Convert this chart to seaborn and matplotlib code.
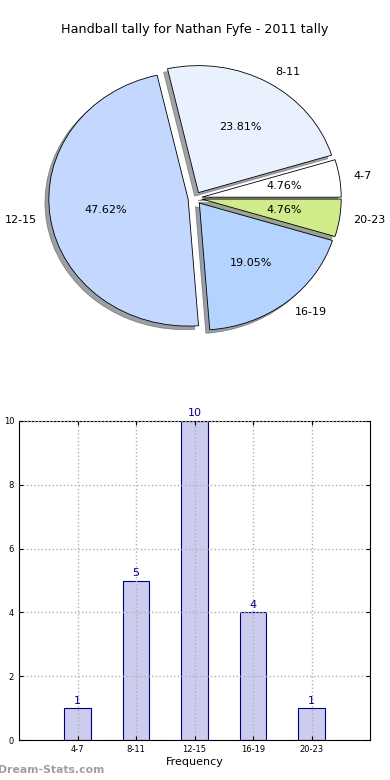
import matplotlib
matplotlib.use("Agg")
import matplotlib.pyplot as plt
import pandas as pd
import seaborn as sns

# Datos del tally de handballs
rangos = ["4-7", "8-11", "12-15", "16-19", "20-23"]
conteos = [1, 5, 10, 4, 1]
colores_pie = ["#ffffff", "#e9f1ff", "#c4d8ff", "#b4d4ff", "#cfeb8a"]
yticks = [0, 2, 4, 6, 8, 10]

sns.set_style("white")
plt.rcParams["font.family"] = ["DejaVu Sans"]
plt.rcParams["text.color"] = "black"
plt.rcParams["axes.labelcolor"] = "black"
plt.rcParams["xtick.color"] = "black"
plt.rcParams["ytick.color"] = "black"

fig = plt.figure(figsize=(3.9, 7.8), dpi=100)

# --- Pie ---
ax_pie = fig.add_axes([0.0, 0.518, 1.0, 0.456])
wedges, textos, autotextos = ax_pie.pie(
    conteos,
    labels=rangos,
    colors=colores_pie,
    explode=[0.05] * len(conteos),
    autopct="%1.2f%%",
    pctdistance=0.6,
    labeldistance=1.1,
    shadow=True,
    startangle=0,
    wedgeprops=dict(edgecolor="black", linewidth=0.6),
    textprops=dict(fontsize=8, color="black"),
)
ax_pie.set_aspect("auto")
ax_pie.set_xlim(-1.4, 1.4)
ax_pie.set_ylim(-1.4, 1.4)
ax_pie.axis("off")

fig.text(0.5, 1 - 30 / 780, "Handball tally for Nathan Fyfe - 2011 tally",
         ha="center", va="center", fontsize=9.2, color="black")

# --- Barras ---
datos = pd.DataFrame({"rango": rangos, "conteo": conteos})
ax_bar = fig.add_axes([19 / 390, 40 / 780, 351 / 390, 319 / 780])
sns.barplot(
    data=datos,
    x="rango",
    y="conteo",
    color="#ccccee",
    edgecolor="#000080",
    linewidth=0.8,
    width=0.45,
    saturation=1,
    ax=ax_bar,
)
for p, valor in zip(ax_bar.patches, conteos):
    ax_bar.text(p.get_x() + p.get_width() / 2, valor + 0.08, str(valor),
                ha="center", va="bottom", color="#000080", fontsize=8)

ax_bar.set_xlim(-1, 5)
ax_bar.set_ylim(0, 10)
ax_bar.set_yticks(yticks)
ax_bar.tick_params(labelsize=6, length=3, direction="in", top=True, right=True,
                   bottom=True, left=True)
ax_bar.grid(True, linestyle=":", color="#b0b0b0", linewidth=1)
ax_bar.set_axisbelow(False)
for lado in ax_bar.spines.values():
    lado.set_visible(True)
    lado.set_color("black")
    lado.set_linewidth(0.8)
ax_bar.set_xlabel("Frequency", fontsize=8, labelpad=2)
ax_bar.set_ylabel("Data Interval", fontsize=7)
ax_bar.yaxis.set_label_coords(-0.065, 0.5)

fig.text(-0.005, 10 / 780, "Dream-Stats.com", ha="left", va="center",
         fontsize=7.8, color="#a0a0a0", fontweight="bold")

fig.savefig("out.png", dpi=100)
